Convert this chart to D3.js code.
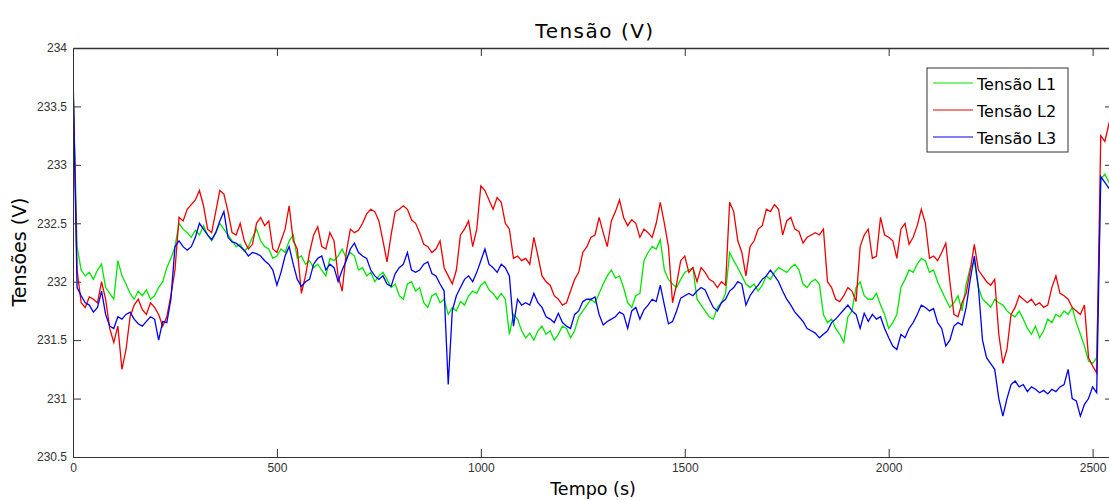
<!DOCTYPE html>
<html>
<head>
<meta charset="utf-8">
<script src="https://cdn.jsdelivr.net/npm/d3@7"></script>
<style>
  body { margin: 0; background: #fff; }
  svg { display: block; }
  .tick text { font-family: "Liberation Sans", Arial, sans-serif; font-size: 12px; fill: #333; }
  .tick line, .domain { stroke: #333; }
</style>
</head>
<body>
<svg id="chart" width="1109" height="500"></svg>
<script>
// sampling step of the traces (s)
var step = 10;

var seriesNames = ["Tensão L1", "Tensão L2", "Tensão L3"];
var seriesColors = ["#00e600", "#ee0000", "#0000ee"];

var xTicks = [0, 500, 1000, 1500, 2000, 2500];
var yTicks = [230.5, 231, 231.5, 232, 232.5, 233, 233.5, 234];

// Tensão L1 (green)
var tensaoL1 = [
  233.7, 232.3, 232.1, 232.05, 232.08, 232.02, 232.1, 232.15, 231.95, 231.9,
  231.85, 232.18, 232.05, 231.98, 231.9, 231.85, 231.92, 231.88, 231.93, 231.85,
  231.88, 231.95, 232.0, 232.12, 232.2, 232.3, 232.5, 232.45, 232.42, 232.38,
  232.44, 232.4, 232.48, 232.4, 232.35, 232.42, 232.5, 232.45, 232.4, 232.35,
  232.3, 232.32, 232.26, 232.3, 232.38, 232.45, 232.35, 232.3, 232.28, 232.2,
  232.22, 232.28, 232.25, 232.35, 232.4, 232.2, 232.22, 232.15, 232.18, 232.12,
  232.15, 232.1, 232.05, 232.2, 232.18, 232.22, 232.28, 232.2, 232.25, 232.22,
  232.1, 232.12, 232.05, 232.08, 232.0, 232.05, 232.08, 232.02, 231.95, 231.98,
  231.88, 231.85, 231.98, 232.0, 231.92, 231.95, 231.82, 231.78, 231.88, 231.9,
  231.82, 231.85, 231.72, 231.78, 231.75, 231.83, 231.8, 231.88, 231.92, 231.9,
  231.97, 232.0, 231.93, 231.9, 231.85, 231.9, 231.85, 231.55, 231.72, 231.68,
  231.58, 231.52, 231.56, 231.5, 231.58, 231.62, 231.55, 231.58, 231.5, 231.55,
  231.62, 231.6, 231.52, 231.58, 231.7, 231.75, 231.8, 231.85, 231.82, 231.9,
  231.98, 232.05, 232.1, 232.03, 232.05, 231.95, 231.82, 231.78, 231.88, 231.9,
  232.18, 232.25, 232.3, 232.28, 232.36, 232.1, 232.02, 231.98, 231.95, 232.02,
  232.08, 232.1, 232.12, 231.85, 231.8, 231.75, 231.7, 231.68, 231.78, 231.82,
  231.9, 232.25, 232.18, 232.12, 232.05, 231.98, 231.95, 231.98, 231.92, 231.97,
  232.05, 232.02, 232.08, 232.12, 232.1, 232.08, 232.12, 232.15, 232.1, 231.98,
  231.95, 232.0, 232.02, 231.98, 231.72, 231.65, 231.68, 231.6, 231.55, 231.48,
  231.7, 231.75, 231.95, 232.0, 231.88, 231.85, 231.85, 231.9, 231.8, 231.72,
  231.6, 231.65, 231.72, 231.95, 232.02, 232.1, 232.08, 232.15, 232.2, 232.18,
  232.08, 232.1, 232.0, 231.92, 231.85, 231.78, 231.82, 231.88, 231.75, 231.98,
  232.12, 232.17, 231.95, 231.85, 231.82, 231.78, 231.85, 231.82, 231.8, 231.75,
  231.72, 231.7, 231.75, 231.68, 231.6, 231.55, 231.62, 231.52, 231.58, 231.68,
  231.65, 231.72, 231.7, 231.75, 231.72, 231.78, 231.65, 231.55, 231.45, 231.32,
  231.3, 231.35, 232.88, 232.92, 232.85, 232.9
];

// Tensão L2 (red)
var tensaoL2 = [
  233.72, 232.1, 231.82, 231.78, 231.87, 231.85, 231.82, 232.0, 231.85, 231.6,
  231.48, 231.62, 231.25, 231.42, 231.7, 231.8, 231.85, 231.76, 231.72, 231.82,
  231.78, 231.72, 231.62, 231.7, 231.88, 232.1, 232.55, 232.52, 232.62, 232.66,
  232.7, 232.78, 232.65, 232.45, 232.42, 232.6, 232.78, 232.75, 232.6, 232.42,
  232.4, 232.5, 232.35, 232.28, 232.32, 232.5, 232.55, 232.48, 232.52, 232.28,
  232.25, 232.35, 232.45, 232.65, 232.35, 232.28, 231.9, 232.05, 232.25, 232.4,
  232.47, 232.3, 232.28, 232.42, 232.35, 232.05, 231.92, 232.25, 232.45, 232.42,
  232.44, 232.5, 232.58, 232.62, 232.6, 232.52, 232.35, 232.17, 232.4, 232.6,
  232.62, 232.65, 232.62, 232.53, 232.5, 232.42, 232.32, 232.3, 232.25, 232.28,
  232.35, 232.12, 232.05, 231.98, 232.1, 232.4, 232.45, 232.52, 232.3, 232.45,
  232.82, 232.78, 232.7, 232.62, 232.72, 232.68, 232.5, 232.45, 232.2, 232.22,
  232.18, 232.2, 232.15, 232.38, 232.22, 232.05, 232.0, 231.97, 231.88, 231.85,
  231.8, 231.82, 231.92, 232.02, 232.08, 232.25, 232.3, 232.38, 232.4, 232.55,
  232.42, 232.3, 232.52, 232.6, 232.7, 232.55, 232.48, 232.53, 232.5, 232.38,
  232.45, 232.42, 232.38, 232.5, 232.68, 232.5, 232.3, 231.82, 231.98, 232.18,
  232.22, 232.08, 232.12, 232.0, 232.12, 232.08, 232.02, 232.0, 231.95, 232.0,
  231.97, 232.68, 232.6, 232.35, 232.25, 232.05, 232.3, 232.35, 232.45, 232.48,
  232.62, 232.6, 232.66, 232.62, 232.4, 232.52, 232.55, 232.45, 232.43, 232.33,
  232.38, 232.4, 232.42, 232.4, 232.45, 232.0, 231.95, 231.85, 231.83, 231.88,
  231.95, 231.92, 231.83, 232.3, 232.4, 232.45, 232.2, 232.22, 232.55, 232.4,
  232.38, 232.35, 232.2, 232.45, 232.5, 232.32, 232.38, 232.48, 232.62, 232.5,
  232.2, 232.22, 232.18, 232.25, 232.33, 232.0, 231.72, 231.7, 231.82, 231.9,
  232.1, 232.32, 232.1, 232.05, 232.0, 231.97, 232.02, 231.55, 231.3, 231.42,
  231.72, 231.78, 231.88, 231.85, 231.82, 231.85, 231.8, 231.82, 231.78, 231.8,
  231.95, 232.05, 231.9, 231.88, 231.85, 231.78, 231.75, 231.72, 231.8, 231.35,
  231.28, 231.22, 233.25, 233.2, 233.35, 233.5
];

// Tensão L3 (blue)
var tensaoL3 = [
  233.8, 231.95, 231.88, 231.82, 231.8, 231.74, 231.78, 231.92, 231.72, 231.62,
  231.6, 231.7, 231.68, 231.72, 231.74, 231.68, 231.64, 231.62, 231.66, 231.7,
  231.68, 231.5, 231.66, 231.65, 231.85, 232.3, 232.35, 232.3, 232.27, 232.3,
  232.38, 232.5, 232.45, 232.4, 232.36, 232.42, 232.52, 232.6, 232.38, 232.34,
  232.33, 232.3, 232.27, 232.22, 232.25, 232.24, 232.22, 232.18, 232.15, 232.1,
  231.97, 232.08, 232.22, 232.3, 232.15, 232.02, 231.96, 232.0, 232.02, 232.15,
  232.2, 232.22, 232.1, 232.15, 232.12, 232.0, 232.1, 232.18, 232.28, 232.33,
  232.25, 232.22, 232.2, 232.1, 232.05, 232.02, 232.05, 231.98, 231.96, 232.07,
  232.12, 232.15, 232.25, 232.1, 232.08, 232.1, 232.15, 232.17, 232.07, 232.05,
  231.98, 231.92, 231.12, 231.75, 231.88, 231.95, 232.02, 232.05, 232.0, 232.08,
  232.18, 232.28, 232.15, 232.12, 232.08, 232.15, 232.12, 232.05, 231.62, 231.85,
  231.8, 231.82, 231.8, 231.9, 231.82, 231.78, 231.7, 231.68, 231.65, 231.73,
  231.65, 231.62, 231.6, 231.72, 231.75, 231.83, 231.85, 231.85, 231.87, 231.72,
  231.63, 231.66, 231.68, 231.7, 231.74, 231.72, 231.6, 231.75, 231.78, 231.68,
  231.76, 231.8, 231.85, 231.83, 231.97, 231.8, 231.64, 231.66, 231.75, 231.86,
  231.88, 231.9, 231.88, 231.92, 231.95, 231.93, 231.85, 231.78, 231.75, 231.82,
  231.85, 231.92, 231.95, 232.0, 231.98, 231.8, 231.88, 231.93, 231.97, 232.02,
  232.05, 232.1, 232.05, 232.0, 231.92, 231.85, 231.8, 231.74, 231.7, 231.66,
  231.6, 231.58, 231.56, 231.52, 231.55, 231.58, 231.65, 231.68, 231.72, 231.76,
  231.8, 231.75, 231.72, 231.6, 231.73, 231.66, 231.72, 231.68, 231.7, 231.6,
  231.52, 231.45, 231.42, 231.55, 231.52, 231.6, 231.65, 231.72, 231.8, 231.78,
  231.75, 231.77, 231.65, 231.6, 231.45, 231.5, 231.62, 231.65, 231.63, 231.78,
  232.02, 232.22, 231.95, 231.5, 231.35, 231.3, 231.25, 231.0, 230.85, 231.0,
  231.12, 231.15, 231.1, 231.12, 231.06, 231.1, 231.08, 231.05, 231.07, 231.04,
  231.08, 231.06, 231.1, 231.12, 231.25, 231.0, 230.98, 230.85, 230.95, 231.0,
  231.1, 231.05, 232.9, 232.85, 232.8, 232.88
];

var series = [tensaoL1, tensaoL2, tensaoL3];

var svg = d3.select("#chart");
// plot box in pixels (right edge lies just past the picture, as in the original crop)
var boxLeft = 73, boxRight = 1113, boxTop = 48, boxBottom = 457;

var xScale = d3.scaleLinear().domain([0, 2550]).range([boxLeft, boxRight]);
var yScale = d3.scaleLinear().domain([230.5, 234]).range([boxBottom, boxTop]);

/* clip to the axes box */
svg.append("defs").append("clipPath").attr("id", "plotClip")
  .append("rect")
  .attr("x", boxLeft).attr("y", boxTop)
  .attr("width", boxRight - boxLeft).attr("height", boxBottom - boxTop);

/* data lines, L1 first so L3 ends up on top */
var line = d3.line()
  .x(function(d, i) { return xScale(i * step); })
  .y(function(d) { return yScale(d); });

svg.append("g").attr("clip-path", "url(#plotClip)")
  .selectAll("path.serie")
  .data(series)
  .enter()
  .append("path")
  .attr("class", "serie")
  .attr("d", line)
  .attr("fill", "none")
  .attr("stroke", function(d, i) { return seriesColors[i]; })
  .attr("stroke-width", 1.3)
  .attr("stroke-linejoin", "miter");

/* axes, matlab style: ticks inside, box all around */
svg.append("g")
  .attr("transform", "translate(0," + boxBottom + ")")
  .call(d3.axisBottom(xScale).tickValues(xTicks).tickSize(-8).tickSizeOuter(0).tickPadding(6)
    .tickFormat(d3.format("d")));

svg.append("g")
  .attr("transform", "translate(0," + boxTop + ")")
  .call(d3.axisTop(xScale).tickValues(xTicks).tickSize(-8).tickSizeOuter(0).tickFormat(""))
  .select(".domain").attr("stroke", "#777").attr("stroke-width", 1.5);

svg.append("g")
  .attr("transform", "translate(" + boxLeft + ",0)")
  .call(d3.axisLeft(yScale).tickValues(yTicks).tickSize(-8).tickSizeOuter(0).tickPadding(6)
    .tickFormat(function(d) { return String(d); }));

svg.append("g")
  .attr("transform", "translate(" + boxRight + ",0)")
  .call(d3.axisRight(yScale).tickValues(yTicks).tickSize(-8).tickSizeOuter(0).tickFormat(""));

svg.selectAll(".tick line").attr("stroke", "#333");

/* titles */
svg.append("text")
  .attr("x", 595)
  .attr("y", 38)
  .attr("text-anchor", "middle")
  .style("font-family", "DejaVu Sans, sans-serif")
  .style("font-size", "20px")
  .style("letter-spacing", "1.5px")
  .text("Tensão (V)");

svg.append("text")
  .attr("x", 593)
  .attr("y", 495)
  .attr("text-anchor", "middle")
  .style("font-family", "DejaVu Sans, sans-serif")
  .style("font-size", "17.5px")
  .text("Tempo (s)");

svg.append("text")
  .attr("transform", "translate(26,252) rotate(-90)")
  .attr("text-anchor", "middle")
  .style("font-family", "DejaVu Sans, sans-serif")
  .style("font-size", "19px")
  .text("Tensões (V)");

/*** legend ***/
var legend = svg.append("g").attr("transform", "translate(927,68)");
legend.append("rect")
  .attr("x", 0).attr("y", 0)
  .attr("width", 141).attr("height", 84)
  .attr("fill", "white")
  .attr("stroke", "#333");

var rows = legend.selectAll("g.row")
  .data(seriesNames)
  .enter()
  .append("g")
  .attr("class", "row")
  .attr("transform", function(d, i) { return "translate(0," + (15 + i * 27) + ")"; });

rows.append("line")
  .attr("x1", 6).attr("x2", 46)
  .attr("y1", 0).attr("y2", 0)
  .attr("stroke", function(d, i) { return seriesColors[i]; })
  .attr("stroke-width", 1.1);

rows.append("text")
  .attr("x", 50)
  .attr("y", 7)
  .style("font-family", "DejaVu Sans, sans-serif")
  .style("font-size", "16px")
  .text(function(d) { return d; });
</script>
</body>
</html>
